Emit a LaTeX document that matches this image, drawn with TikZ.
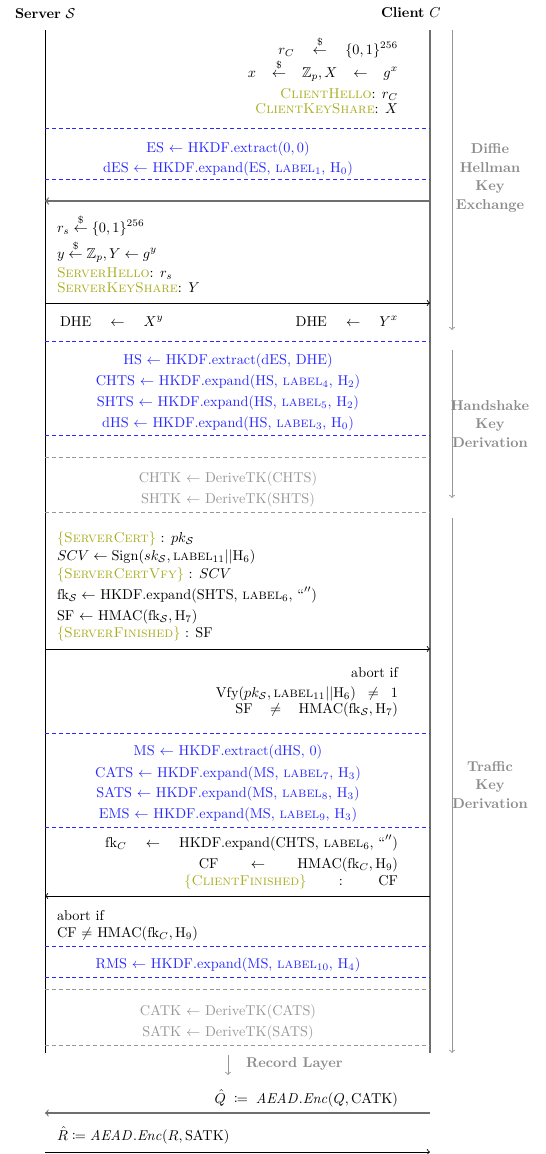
\documentclass[tikz,border=0pt]{standalone}
\usepackage{amsmath,amssymb,mathtools}
\definecolor{kblue}{RGB}{40,40,255}
\definecolor{kolive}{RGB}{168,172,28}
\definecolor{kgray}{RGB}{150,150,150}
\definecolor{kphase}{RGB}{140,140,140}
\definecolor{kline}{RGB}{110,110,110}
\newcommand{\lbl}[1]{\text{\textsc{label}}_{#1}}
\newcommand{\sarr}{\overset{\$}{\leftarrow}}
\newcommand{\msg}[1]{\textcolor{kolive}{\textsc{#1}}}
\newcommand{\emq}{\text{``}''}
\begin{document}
\begin{tikzpicture}[x=0.7pt,y=-0.7pt,
  txt/.style={inner sep=0pt,outer sep=0pt},
  L/.style={txt,anchor=base west},
  R/.style={txt,anchor=base east},
  C/.style={txt,anchor=base},
  bluetxt/.style={text=kblue},
  graytxt/.style={text=kgray},
  bdash/.style={draw=kblue,dash pattern=on 2.8pt off 2pt,line width=0.65pt},
  gdash/.style={draw=kgray,dash pattern=on 2.8pt off 2pt,line width=0.65pt},
  msgarr/.style={->,line width=0.6pt},
  gmsgarr/.style={->,line width=0.9pt,draw=kline},
  phase/.style={->,kgray,line width=0.6pt},
  phaselbl/.style={txt,align=center,text=kphase,font=\bfseries},
]
\useasboundingbox (0,0) rectangle (546,1154);

% headers
\node[L] (srv) at (15,18) {\textbf{Server} $\mathcal{S}$};
\node[L] (cli) at (381,17) {\textbf{Client} $C$};

% party lines
\coordinate (Ltop) at (45,30);
\coordinate (Lbot) at (45,1053);
\coordinate (Rtop) at (430,30);
\coordinate (Rbot) at (430,1053);
\draw[line width=0.6pt] (Ltop) -- (Lbot);
\draw[line width=0.9pt,kline] (Rtop) -- (Rbot);

% phase arrows
\coordinate (p1a) at (452,30);  \coordinate (p1b) at (452,330);
\coordinate (p2a) at (452,350); \coordinate (p2b) at (452,498);
\coordinate (p3a) at (452,518); \coordinate (p3b) at (452,1053);
\draw[phase] (p1a) -- (p1b);
\draw[phase] (p2a) -- (p2b);
\draw[phase] (p3a) -- (p3b);
\node[phaselbl] (ph1) at (490,178) {Diffie\\[1pt]Hellman\\[1pt]Key\\[1pt]Exchange};
\node[phaselbl] (ph2) at (490,424) {Handshake\\[1pt]Key\\[1pt]Derivation};
\node[phaselbl] (ph3) at (490,785) {Traffic\\[1pt]Key\\[1pt]Derivation};

% client hello
\node[R] (c1) at (398,54) {$r_C \quad \sarr \quad \{0,1\}^{256}$};
\node[R] (c2) at (398,77) {$x \;\;\; \sarr \;\;\; \mathbb{Z}_p, X \;\;\; \leftarrow \;\;\; g^x$};
\node[R] (c3) at (398,98) {\msg{ClientHello}: $r_C$};
\node[R] (c4) at (398,113) {\msg{ClientKeyShare}: $X$};

\coordinate (d1l) at (45,128); \coordinate (d1r) at (430,128);
\draw[bdash] (d1l) -- (d1r);
\node[C,bluetxt] (k1) at (228,152) {ES $\leftarrow$ HKDF.extract$(0,0)$};
\node[C,bluetxt] (k2) at (228,172) {dES $\leftarrow$ HKDF.expand(ES, $\lbl{1}$, $\mathrm{H}_0$)};
\coordinate (d2l) at (45,179); \coordinate (d2r) at (430,179);
\draw[bdash] (d2l) -- (d2r);

\coordinate (a1r) at (430,201); \coordinate (a1l) at (45,201);
\draw[gmsgarr] (a1r) -- (a1l);

% server hello
\node[L] (s1) at (57,232) {$r_s \sarr \{0,1\}^{256}$};
\node[L] (s2) at (57,258) {$y \sarr \mathbb{Z}_p, Y \leftarrow g^y$};
\node[L] (s3) at (57,277) {\msg{ServerHello}: $r_s$};
\node[L] (s4) at (57,292) {\msg{ServerKeyShare}: $Y$};

\coordinate (a2l) at (45,303); \coordinate (a2r) at (430,303);
\draw[msgarr] (a2l) -- (a2r);

\node[L] (dhs) at (60,326) {DHE \quad $\leftarrow$ \quad $X^y$};
\node[R] (dhc) at (398,326) {DHE \quad $\leftarrow$ \quad $Y^x$};

\coordinate (d3l) at (45,341); \coordinate (d3r) at (430,341);
\draw[bdash] (d3l) -- (d3r);
\node[C,bluetxt] (k3) at (228,364) {HS $\leftarrow$ HKDF.extract(dES, DHE)};
\node[C,bluetxt] (k4) at (228,385) {CHTS $\leftarrow$ HKDF.expand(HS, $\lbl{4}$, $\mathrm{H}_2$)};
\node[C,bluetxt] (k5) at (228,406) {SHTS $\leftarrow$ HKDF.expand(HS, $\lbl{5}$, $\mathrm{H}_2$)};
\node[C,bluetxt] (k6) at (228,427) {dHS $\leftarrow$ HKDF.expand(HS, $\lbl{3}$, $\mathrm{H}_0$)};
\coordinate (d4l) at (45,435); \coordinate (d4r) at (430,435);
\draw[bdash] (d4l) -- (d4r);

\coordinate (g1l) at (45,457); \coordinate (g1r) at (430,457);
\draw[gdash] (g1l) -- (g1r);
\node[C,graytxt] (t1) at (228,482) {CHTK $\leftarrow$ DeriveTK(CHTS)};
\node[C,graytxt] (t2) at (228,503) {SHTK $\leftarrow$ DeriveTK(SHTS)};
\coordinate (g2l) at (45,512); \coordinate (g2r) at (430,512);
\draw[gdash] (g2l) -- (g2r);

% server certificate / finished
\node[L] (s5) at (57,542) {\textcolor{kolive}{\{\textsc{ServerCert}\}} : $pk_{\mathcal{S}}$};
\node[L] (s6) at (57,560) {$SCV \leftarrow \mathrm{Sign}(sk_{\mathcal{S}}, \lbl{11} || \mathrm{H}_6)$};
\node[L] (s7) at (57,578) {\textcolor{kolive}{\{\textsc{ServerCertVfy}\}} : $SCV$};
\node[L] (s8) at (57,599) {$\mathrm{fk}_{\mathcal{S}} \leftarrow$ HKDF.expand(SHTS, $\lbl{6}$, $\emq$)};
\node[L] (s9) at (57,620) {SF $\leftarrow$ HMAC$(\mathrm{fk}_{\mathcal{S}}, \mathrm{H}_7)$};
\node[L] (s10) at (57,637) {\textcolor{kolive}{\{\textsc{ServerFinished}\}} : SF};

\coordinate (a3l) at (45,649); \coordinate (a3r) at (430,649);
\draw[msgarr] (a3l) -- (a3r);

\node[R] (c5) at (398,677) {abort if};
\node[R] (c6) at (398,697) {Vfy$(pk_{\mathcal{S}}, \lbl{11} || \mathrm{H}_6) \;\;\neq\;\; 1$};
\node[R] (c7) at (398,713) {SF \;\; $\neq$ \;\; HMAC$(\mathrm{fk}_{\mathcal{S}}, \mathrm{H}_7)$};

\coordinate (d5l) at (45,733); \coordinate (d5r) at (430,733);
\draw[bdash] (d5l) -- (d5r);
\node[C,bluetxt] (k7) at (228,755) {MS $\leftarrow$ HKDF.extract(dHS, $0$)};
\node[C,bluetxt] (k8) at (228,777) {CATS $\leftarrow$ HKDF.expand(MS, $\lbl{7}$, $\mathrm{H}_3$)};
\node[C,bluetxt] (k9) at (228,797) {SATS $\leftarrow$ HKDF.expand(MS, $\lbl{8}$, $\mathrm{H}_3$)};
\node[C,bluetxt] (k10) at (228,818) {EMS $\leftarrow$ HKDF.expand(MS, $\lbl{9}$, $\mathrm{H}_3$)};
\coordinate (d6l) at (45,827); \coordinate (d6r) at (430,827);
\draw[bdash] (d6l) -- (d6r);

% client finished
\node[R] (c8) at (398,847) {$\mathrm{fk}_C$ \quad $\leftarrow$ \quad HKDF.expand(CHTS, $\lbl{6}$, $\emq$)};
\node[R] (c9) at (398,868) {CF \hspace{1.6em} $\leftarrow$ \hspace{1.6em} HMAC$(\mathrm{fk}_C, \mathrm{H}_9)$};
\node[R] (c10) at (398,885) {\textcolor{kolive}{\{\textsc{ClientFinished}\}} \hspace{1.6em} : \hspace{1.6em} CF};

\coordinate (a4r) at (430,896); \coordinate (a4l) at (45,896);
\draw[msgarr] (a4r) -- (a4l);

\node[L] (s11) at (57,920) {abort if};
\node[L] (s12) at (57,937) {CF $\neq$ HMAC$(\mathrm{fk}_C, \mathrm{H}_9)$};

\coordinate (d7l) at (45,946); \coordinate (d7r) at (430,946);
\draw[bdash] (d7l) -- (d7r);
\node[C,bluetxt] (k11) at (228,968) {RMS $\leftarrow$ HKDF.expand(MS, $\lbl{10}$, $\mathrm{H}_4$)};
\coordinate (d8l) at (45,977); \coordinate (d8r) at (430,977);
\draw[bdash] (d8l) -- (d8r);

\coordinate (g3l) at (45,989); \coordinate (g3r) at (430,989);
\draw[gdash] (g3l) -- (g3r);
\node[C,graytxt] (t3) at (228,1015) {CATK $\leftarrow$ DeriveTK(CATS)};
\node[C,graytxt] (t4) at (228,1036) {SATK $\leftarrow$ DeriveTK(SATS)};
\coordinate (g4l) at (45,1045); \coordinate (g4r) at (430,1045);
\draw[gdash] (g4l) -- (g4r);

% record layer
\coordinate (rla) at (228,1055); \coordinate (rlb) at (228,1075);
\draw[phase] (rla) -- (rlb);
\node[L,text=kphase,font=\bfseries] (rl) at (246,1067) {Record Layer};

\node[R] (c11) at (398,1103) {$\hat{Q} \;\coloneqq\; \mathit{AEAD}.\mathit{Enc}(Q, \mathrm{CATK})$};
\coordinate (a5r) at (430,1113); \coordinate (a5l) at (45,1113);
\draw[->,line width=0.8pt,draw=kline] (a5r) -- (a5l);

\node[L] (s13) at (57,1140) {$\hat{R} \coloneqq \mathit{AEAD}.\mathit{Enc}(R, \mathrm{SATK})$};
\coordinate (a6l) at (45,1152); \coordinate (a6r) at (430,1152);
\draw[msgarr] (a6l) -- (a6r);
\end{tikzpicture}
\end{document}
